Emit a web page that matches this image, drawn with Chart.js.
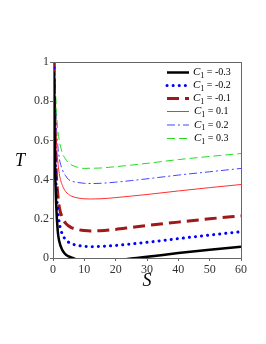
<!DOCTYPE html>
<html>
<head>
<meta charset="utf-8">
<script src="https://cdn.jsdelivr.net/npm/chart.js@4/dist/chart.umd.min.js"></script>
<style>
html,body{margin:0;padding:0;background:#fff;}
canvas{display:block;}
</style>
</head>
<body>
<canvas id="c" width="266" height="344"></canvas>
<script>
// ---- data ----
const S = [0.3, 0.6, 1, 1.5, 2, 3, 4, 5, 6, 8, 10, 12, 15, 20, 25, 30, 40, 50, 60];
const T_m03 = [0.95, 0.52, 0.28, 0.14, 0.085, 0.04, 0.018, 0.008, 0.002, -0.01, -0.015, -0.018, -0.018, -0.012, -0.003, 0.006, 0.025, 0.042, 0.057];
const T_m02 = [1.0, 0.6, 0.37, 0.25, 0.18, 0.12, 0.095, 0.08, 0.072, 0.064, 0.06, 0.058, 0.059, 0.064, 0.072, 0.08, 0.099, 0.117, 0.134];
const T_m01 = [1.1, 0.68, 0.45, 0.33, 0.26, 0.205, 0.178, 0.163, 0.154, 0.145, 0.14, 0.138, 0.139, 0.146, 0.156, 0.166, 0.183, 0.2, 0.215];
const T_p01 = [1.3, 0.85, 0.62, 0.5, 0.43, 0.37, 0.34, 0.324, 0.315, 0.306, 0.302, 0.301, 0.302, 0.308, 0.316, 0.324, 0.342, 0.359, 0.375];
const T_p02 = [1.4, 0.92, 0.7, 0.58, 0.51, 0.45, 0.42, 0.4, 0.392, 0.385, 0.381, 0.38, 0.381, 0.387, 0.395, 0.404, 0.423, 0.44, 0.457];
const T_p03 = [1.5, 1.0, 0.78, 0.66, 0.6, 0.535, 0.505, 0.485, 0.474, 0.462, 0.457, 0.458, 0.459, 0.466, 0.474, 0.483, 0.502, 0.518, 0.533];
const legendLabels = ['-0.3', '-0.2', '-0.1', '0.1', '0.2', '0.3'];
const xTickLabels = ['0', '10', '20', '30', '40', '50', '60'];
const yTickLabels = ['0', '0.2', '0.4', '0.6', '0.8', '1'];
const xTitle = 'S';
const yTitle = 'T';

const pts = arr => arr.map((v, i) => ({x: S[i], y: v}));

const styles = [
  {borderColor: '#000000', borderWidth: 2.5, borderDash: [], borderCapStyle: 'butt'},
  {borderColor: '#0000ff', borderWidth: 3, borderDash: [0.1, 6], borderCapStyle: 'round'},
  {borderColor: '#a01818', borderWidth: 3, borderDash: [12, 6], borderCapStyle: 'butt'},
  {borderColor: '#ff3030', borderWidth: 1, borderDash: [], borderCapStyle: 'butt'},
  {borderColor: '#4444ff', borderWidth: 1, borderDash: [8, 3, 2, 3], borderCapStyle: 'butt'},
  {borderColor: '#22dd22', borderWidth: 1, borderDash: [8, 4], borderCapStyle: 'butt'}
];
const series = [T_m03, T_m02, T_m01, T_p01, T_p02, T_p03];

const datasets = series.map((arr, i) => Object.assign({
  label: 'C1 = ' + legendLabels[i],
  data: pts(arr),
  pointRadius: 0,
  fill: false,
  cubicInterpolationMode: 'monotone',
  tension: 0
}, styles[i]));

const framePlugin = {
  id: 'frame',
  afterDatasetsDraw(chart) {
    const {ctx, chartArea: a} = chart;
    ctx.save();
    ctx.strokeStyle = '#666';
    ctx.lineWidth = 1;
    ctx.setLineDash([]);
    ctx.strokeRect(a.left + 0.5, a.top + 0.5, a.right - a.left, a.bottom - a.top);
    // axis titles
    ctx.fillStyle = '#000';
    ctx.font = 'italic 18px "Liberation Serif"';
    ctx.textAlign = 'center';
    ctx.textBaseline = 'middle';
    ctx.fillText(yTitle, 20, 161);
    ctx.fillText(xTitle, 147, 281);
    // legend
    const x0 = 167, x1 = 189, tx = 193;
    const rows = [72.5, 85.5, 98.5, 111.5, 125, 138.5];
    chart.data.datasets.forEach((ds, i) => {
      const y = rows[i];
      ctx.save();
      ctx.strokeStyle = ds.borderColor;
      ctx.lineWidth = ds.borderWidth;
      ctx.setLineDash(ds.borderDash);
      ctx.lineCap = ds.borderCapStyle;
      ctx.beginPath();
      ctx.moveTo(x0, y);
      ctx.lineTo(x1, y);
      ctx.stroke();
      ctx.restore();
      ctx.textAlign = 'left';
      ctx.textBaseline = 'middle';
      ctx.font = 'italic 11px "Liberation Serif"';
      const lx = legendLabels[i].startsWith('-') ? tx : tx + 1;
      ctx.fillText('C', lx, y);
      const cw = ctx.measureText('C').width;
      ctx.font = '8px "Liberation Serif"';
      ctx.fillText('1', lx + cw, y + 3);
      const sw = ctx.measureText('1').width;
      ctx.font = '10px "Liberation Serif"';
      ctx.fillText(' = ' + legendLabels[i], lx + cw + sw, y);
    });
    ctx.restore();
  }
};

new Chart(document.getElementById('c'), {
  type: 'line',
  data: {datasets},
  plugins: [framePlugin],
  options: {
    responsive: false,
    animation: false,
    devicePixelRatio: 1,
    layout: {padding: {left: 0, right: 25, top: 62, bottom: 0}},
    plugins: {legend: {display: false}, tooltip: {enabled: false}},
    scales: {
      x: {
        type: 'linear', min: 0, max: 60,
        afterFit: s => { s.height = 86; },
        afterBuildTicks: s => { s.ticks = xTickLabels.map(v => ({value: Number(v)})); },
        ticks: {
          color: '#333', font: {family: 'Liberation Serif', size: 12}, padding: 2,
          maxRotation: 0,
          callback: (v) => xTickLabels[xTickLabels.indexOf(String(v))] ?? ''
        },
        grid: {drawOnChartArea: false, tickLength: 3, color: '#666'},
        border: {display: false}
      },
      y: {
        type: 'linear', min: 0, max: 1,
        afterFit: s => { s.width = 53; },
        afterBuildTicks: s => { s.ticks = yTickLabels.map(v => ({value: Number(v)})); },
        ticks: {
          color: '#333', font: {family: 'Liberation Serif', size: 12}, padding: 1,
          callback: (v) => yTickLabels[yTickLabels.map(Number).indexOf(v)] ?? ''
        },
        grid: {drawOnChartArea: false, tickLength: 3, color: '#666'},
        border: {display: false}
      }
    }
  }
});
</script>
</body>
</html>
